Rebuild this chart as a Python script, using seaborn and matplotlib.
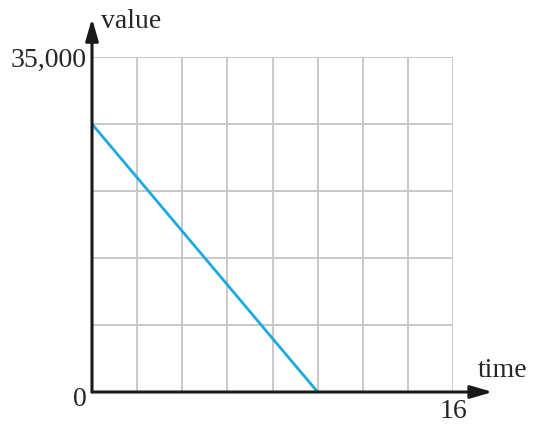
import numpy as np
import pandas as pd
import seaborn as sns
import matplotlib.pyplot as plt
import matplotlib.transforms as mtransforms

# data
time = [0, 10]
value = [28000, 0]
x_grid = [0, 2, 4, 6, 8, 10, 12, 14, 16]
y_grid = [0, 7000, 14000, 21000, 28000, 35000]
x_labels = ["", "", "", "", "", "", "", "", "16"]
y_labels = ["0", "", "", "", "", "35,000"]

sns.set_theme(style="white")
plt.rcParams['font.family'] = ['Liberation Serif', 'DejaVu Serif']

df = pd.DataFrame({"time": time, "value": value})

fig = plt.figure(figsize=(5.35, 4.25), dpi=100)
ax = fig.add_axes([92 / 535, 33 / 425, 361 / 535, 335 / 425])

sns.lineplot(data=df, x="time", y="value", color="#1aa9e0", linewidth=2, ax=ax, zorder=3)

ax.set_xlim(0, 16)
ax.set_ylim(0, 35000)
ax.set_xticks(x_grid)
ax.set_yticks(y_grid)
ax.set_xticklabels(x_labels, fontsize=20)
ax.set_yticklabels(y_labels, fontsize=20)
ax.tick_params(axis="x", length=0, pad=5)
ax.tick_params(axis="y", length=0, pad=4)
# nudge the "0" label a bit below the axis like the original
lab0 = ax.get_yticklabels()[0]
lab0.set_transform(lab0.get_transform() + mtransforms.ScaledTranslation(0, -4 / 100, fig.dpi_scale_trans))
ax.grid(True, color="#c8c8c8", linewidth=1.4)
ax.set_xlabel("")
ax.set_ylabel("")
for s in ax.spines.values():
    s.set_visible(False)

# axis arrows
arrow = dict(arrowstyle="-|>,head_length=1.1,head_width=0.32", color="#1a1a1a", lw=2.2,
             shrinkA=0, shrinkB=0)
ax.annotate("", xy=(1.11, 0), xytext=(0, 0), xycoords="axes fraction",
            textcoords="axes fraction", arrowprops=arrow, annotation_clip=False)
ax.annotate("", xy=(0, 1.115), xytext=(0, 0), xycoords="axes fraction",
            textcoords="axes fraction", arrowprops=arrow, annotation_clip=False)
ax.text(1.07, 0.065, "time", transform=ax.transAxes, fontsize=20, ha="left", va="center")
ax.text(0.025, 1.105, "value", transform=ax.transAxes, fontsize=20, ha="left", va="center")

fig.savefig("out.png", dpi=100)
